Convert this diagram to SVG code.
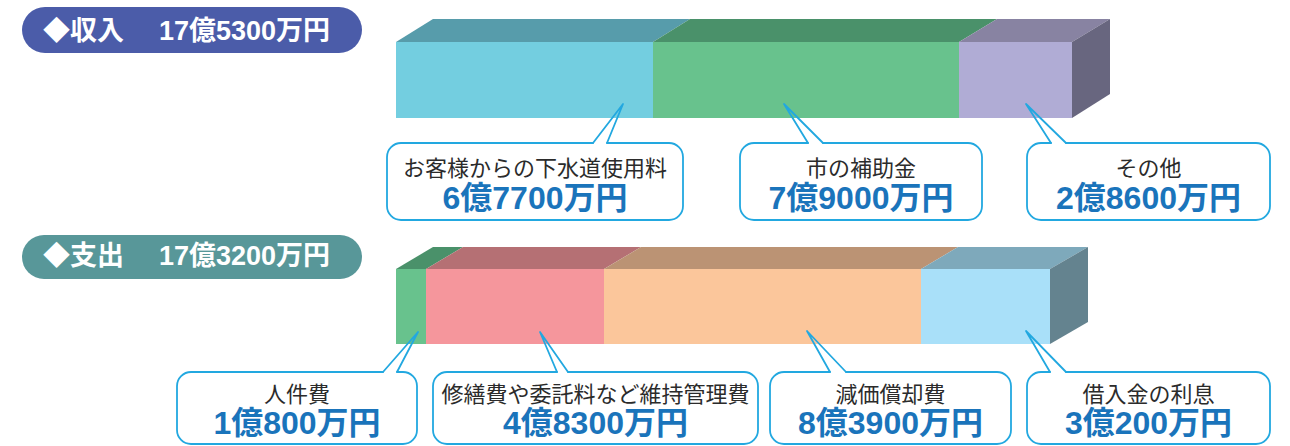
<svg xmlns="http://www.w3.org/2000/svg" width="1290" height="446" viewBox="0 0 1290 446">
<style>
.hdr{font-family:"Liberation Sans","Noto Sans CJK JP",sans-serif;font-weight:bold;font-size:27px;fill:#fff}
.lbl{font-family:"Liberation Sans","Noto Sans CJK JP",sans-serif;font-size:22px;fill:#2b2b2b;text-anchor:middle}
.amt{font-family:"Liberation Sans","Noto Sans CJK JP",sans-serif;font-weight:bold;font-size:32px;fill:#1A74BB;text-anchor:middle}
.box{fill:none;stroke:#22A8E0;stroke-width:1.8;stroke-linejoin:round;stroke-linecap:round}
.tail{fill:none;stroke:#22A8E0;stroke-width:1.8;stroke-linejoin:round;stroke-linecap:round}
</style>
<rect width="1290" height="446" fill="#fff"/>
<g id="header-income">
<rect x="22" y="7" width="340" height="46" rx="23" fill="#4B5CA9"/>
<text class="hdr" x="43" y="39.5">◆収入</text>
<text class="hdr" x="159" y="39.5">17億5300万円</text>
</g>
<g id="header-expense">
<rect x="22" y="235" width="340" height="44" rx="22" fill="#589799"/>
<text class="hdr" x="43" y="265">◆支出</text>
<text class="hdr" x="159" y="265">17億3200万円</text>
</g>
<g id="bar-income">
<rect x="396" y="42" width="257" height="76" fill="#73CEE0"/>
<polygon points="396,42 433,19 690,19 653,42" fill="#579CAB"/>
<rect x="653" y="42" width="306" height="76" fill="#68C28D"/>
<polygon points="653,42 690,19 997,19 959,42" fill="#4A916A"/>
<rect x="959" y="42" width="113" height="76" fill="#B0ACD5"/>
<polygon points="959,42 997,19 1110,19 1072,42" fill="#8883A2"/>
<polygon points="1072,42 1110,19 1110,94 1072,118" fill="#68667F"/>
</g>
<g id="bar-expense">
<rect x="396" y="269" width="30" height="75" fill="#68C28D"/>
<polygon points="396,269 433,247 463,247 426,269" fill="#4A916A"/>
<rect x="426" y="269" width="178" height="75" fill="#F5969C"/>
<polygon points="426,269 463,247 641,247 604,269" fill="#B57074"/>
<rect x="604" y="269" width="317" height="75" fill="#FBC69B"/>
<polygon points="604,269 641,247 958,247 921,269" fill="#BB9374"/>
<rect x="921" y="269" width="129" height="75" fill="#A9E0F9"/>
<polygon points="921,269 958,247 1088,247 1050,269" fill="#7EA9BB"/>
<polygon points="1050,269 1088,247 1088,322 1050,344" fill="#64838F"/>
</g>
<g id="callout-fee">
<path class="box" d="M607,143 H669 A14,14 0 0 1 683,157 V206 A14,14 0 0 1 669,220 H401 A14,14 0 0 1 387,206 V157 A14,14 0 0 1 401,143 H593"/>
<text class="lbl" x="535" y="176">お客様からの下水道使用料</text>
<text class="amt" x="535" y="209">6億7700万円</text>
</g>
<g id="callout-subsidy">
<path class="box" d="M823,143 H968 A14,14 0 0 1 982,157 V206 A14,14 0 0 1 968,220 H754 A14,14 0 0 1 740,206 V157 A14,14 0 0 1 754,143 H808"/>
<text class="lbl" x="861" y="176">市の補助金</text>
<text class="amt" x="861" y="209">7億9000万円</text>
</g>
<g id="callout-other">
<path class="box" d="M1066,143 H1256 A14,14 0 0 1 1270,157 V206 A14,14 0 0 1 1256,220 H1041 A14,14 0 0 1 1027,206 V157 A14,14 0 0 1 1041,143 H1051"/>
<text class="lbl" x="1148.5" y="176">その他</text>
<text class="amt" x="1148.5" y="209">2億8600万円</text>
</g>
<g id="callout-personnel">
<path class="box" d="M397,372 H403 A14,14 0 0 1 417,386 V430 A14,14 0 0 1 403,444 H191 A14,14 0 0 1 177,430 V386 A14,14 0 0 1 191,372 H383"/>
<text class="lbl" x="297" y="402">人件費</text>
<text class="amt" x="297" y="434">1億800万円</text>
</g>
<g id="callout-maintenance">
<path class="box" d="M568,372 H744 A14,14 0 0 1 758,386 V430 A14,14 0 0 1 744,444 H447 A14,14 0 0 1 433,430 V386 A14,14 0 0 1 447,372 H557"/>
<text class="lbl" x="595.5" y="402">修繕費や委託料など維持管理費</text>
<text class="amt" x="595.5" y="434">4億8300万円</text>
</g>
<g id="callout-depreciation">
<path class="box" d="M846,372 H997 A14,14 0 0 1 1011,386 V430 A14,14 0 0 1 997,444 H784 A14,14 0 0 1 770,430 V386 A14,14 0 0 1 784,372 H830"/>
<text class="lbl" x="890.5" y="402">減価償却費</text>
<text class="amt" x="890.5" y="434">8億3900万円</text>
</g>
<g id="callout-interest">
<path class="box" d="M1066,372 H1256 A14,14 0 0 1 1270,386 V430 A14,14 0 0 1 1256,444 H1041 A14,14 0 0 1 1027,430 V386 A14,14 0 0 1 1041,372 H1050"/>
<text class="lbl" x="1148.5" y="402">借入金の利息</text>
<text class="amt" x="1148.5" y="434">3億200万円</text>
</g>
<g id="connectors">
<polyline class="tail" points="593,143 623,104 607,143"/>
<polyline class="tail" points="808,143 784,104 823,143"/>
<polyline class="tail" points="1051,143 1026,104 1066,143"/>
<polyline class="tail" points="383,372 418,332 397,372"/>
<polyline class="tail" points="557,372 540,332 568,372"/>
<polyline class="tail" points="830,372 807,331 846,372"/>
<polyline class="tail" points="1050,372 1026,331 1066,372"/>
</g>
</svg>
